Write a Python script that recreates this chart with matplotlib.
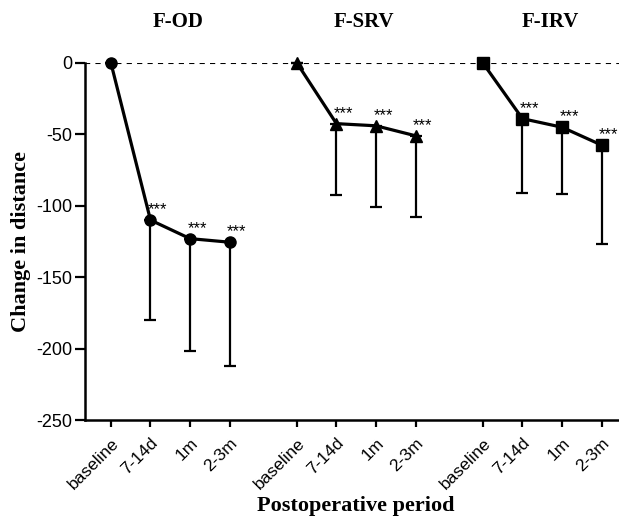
import numpy as np
import matplotlib
matplotlib.use('Agg')
import matplotlib.pyplot as plt

# Dữ liệu
groups = ['F-OD', 'F-SRV', 'F-IRV']
periods = ['baseline', '7-14d', '1m', '2-3m']
od_mean = [0, -110, -123, -125.5]
od_low = [0, 70, 79, 87]
srv_mean = [0, -42.5, -44, -51]
srv_low = [0, 50, 57, 57]
irv_mean = [0, -39, -45, -57.5]
irv_low = [0, 52, 47, 69]
stars = ['', '***', '***', '***']

group_offsets = [0, 4.7, 9.4]
markers = ['o', '^', 's']

plt.rcParams['font.family'] = ['Liberation Sans', 'DejaVu Sans']
plt.rcParams['axes.unicode_minus'] = False

fig = plt.figure(figsize=(6.19, 5.16), dpi=100)
ax = fig.add_axes([0.137, 0.186, 0.87, 0.692])

means = [od_mean, srv_mean, irv_mean]
lows = [od_low, srv_low, irv_low]
xticks, xlabels = [], []
for g, off, m, mean, low in zip(groups, group_offsets, markers, means, lows):
    x = off + np.arange(len(periods))
    ax.errorbar(x, mean, yerr=[low, np.zeros(len(low))], fmt='none',
                ecolor='black', elinewidth=1.6, capsize=4.5, capthick=1.6,
                clip_on=False, zorder=2)
    ms = 9 if m == '^' else 8
    ax.plot(x, mean, color='black', lw=2.3, marker=m, ms=ms,
            clip_on=False, zorder=3)
    for xi, yi, s in zip(x, mean, stars):
        if s:
            ax.text(xi + 0.18, yi + 2, s, ha='center', va='bottom',
                    fontsize=12)
    ax.text(x.mean() + 0.2, 1.115, g, transform=ax.get_xaxis_transform(),
            ha='center', va='center', fontsize=15, fontweight='bold',
            family='Liberation Serif')
    xticks.extend(x)
    xlabels.extend(periods)

ax.axhline(0, color='black', lw=1.5, ls=(0, (2.5, 2.5)), zorder=1)

ax.set_xlim(-0.66, 12.95)
ax.set_ylim(-250, 0)
ax.set_yticks([0, -50, -100, -150, -200, -250])
ax.set_xticks(xticks)
ax.set_xticklabels(xlabels, rotation=45, ha='right', rotation_mode='anchor',
                   fontsize=12.5)
ax.tick_params(axis='y', labelsize=13, width=1.6, length=7, direction='out',
               pad=2)
ax.tick_params(axis='x', width=1.6, length=5, direction='out', pad=6)

for side in ['top', 'right']:
    ax.spines[side].set_visible(False)
for side in ['left', 'bottom']:
    ax.spines[side].set_linewidth(1.8)

ax.set_ylabel('Change in distance', fontsize=16, fontweight='bold',
              family='Liberation Serif', labelpad=4)
ax.set_xlabel('Postoperative period', fontsize=16, fontweight='bold',
              family='Liberation Serif')
ax.xaxis.set_label_coords(0.503, -0.213)

fig.savefig('out.png', dpi=100)
